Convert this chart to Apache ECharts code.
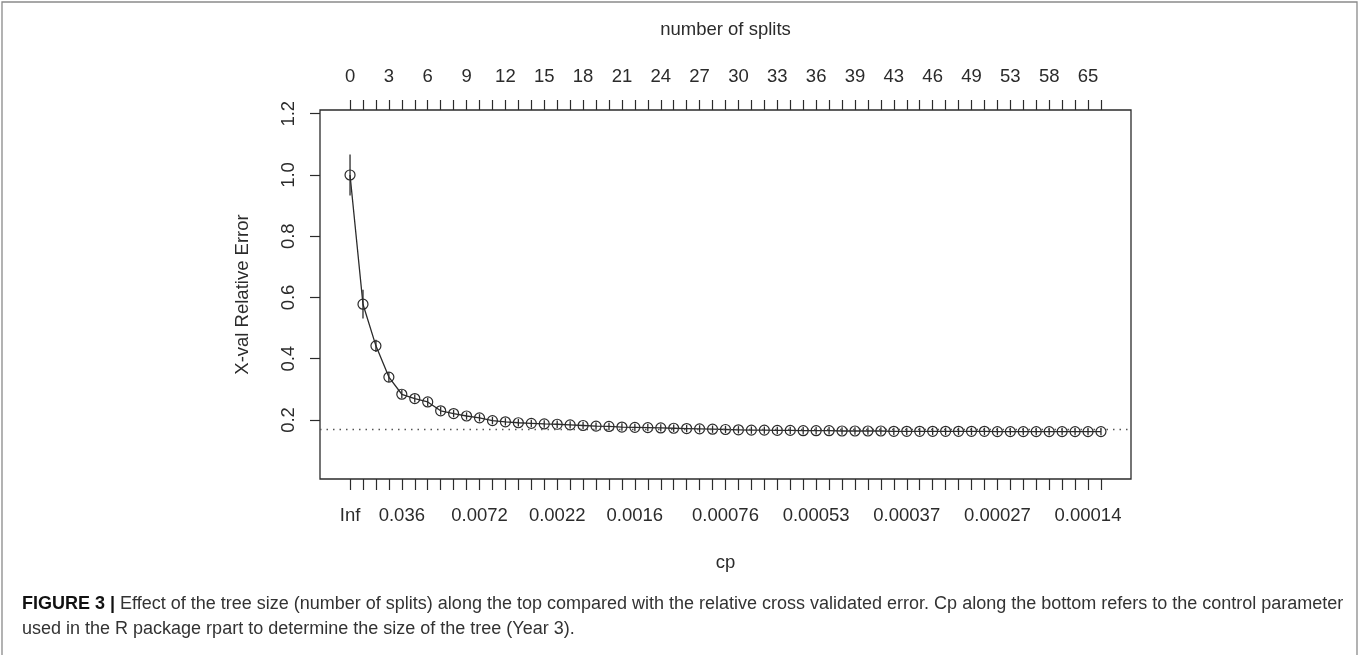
<!DOCTYPE html>
<html>
<head>
<meta charset="utf-8">
<script src="https://cdn.jsdelivr.net/npm/echarts@6/dist/echarts.min.js"></script>
<style>
html,body{margin:0;padding:0;background:#fff;}
#chart{width:1360px;height:655px;}
</style>
</head>
<body>
<div id="chart"></div>
<script>
// ---- data ----
const xerror = [1.000, 0.578, 0.442, 0.340, 0.284, 0.270, 0.259, 0.230, 0.221, 0.213,
  0.207, 0.198, 0.194, 0.191, 0.189, 0.187, 0.186, 0.184, 0.182, 0.180,
  0.179, 0.177, 0.176, 0.175, 0.174, 0.173, 0.172, 0.171, 0.170, 0.169,
  0.168, 0.167, 0.167, 0.166, 0.166, 0.165, 0.165, 0.165, 0.164, 0.164,
  0.164, 0.164, 0.163, 0.163, 0.163, 0.163, 0.163, 0.163, 0.163, 0.163,
  0.162, 0.162, 0.162, 0.162, 0.162, 0.162, 0.162, 0.162, 0.162];
const xstd = [0.067, 0.047, 0.020, 0.016, 0.014, 0.013, 0.013, 0.013, 0.012, 0.012,
  0.012, 0.012, 0.012, 0.012, 0.012, 0.012, 0.012, 0.012, 0.012, 0.012,
  0.012, 0.012, 0.012, 0.012, 0.012, 0.012, 0.012, 0.012, 0.012, 0.012,
  0.012, 0.012, 0.012, 0.012, 0.012, 0.012, 0.012, 0.012, 0.012, 0.012,
  0.012, 0.012, 0.012, 0.012, 0.012, 0.012, 0.012, 0.012, 0.012, 0.012,
  0.012, 0.012, 0.012, 0.012, 0.012, 0.012, 0.012, 0.012, 0.012];
const seThreshold = 0.175;
const splitTickIndex = [0, 3, 6, 9, 12, 15, 18, 21, 24, 27, 30, 33, 36, 39, 42, 45, 48, 51, 54, 57];
const splitTickLabels = ['0','3','6','9','12','15','18','21','24','27','30','33','36','39','43','46','49','53','58','65'];
const cpTickIndex = [0, 4, 10, 16, 22, 29, 36, 43, 50, 57];
const cpTickLabels = ['Inf','0.036','0.0072','0.0022','0.0016','0.00076','0.00053','0.00037','0.00027','0.00014'];
const yTicks = [0.2, 0.4, 0.6, 0.8, 1.0, 1.2];

// ---- build ----
const pointIdx = xerror.map((v, i) => i);
const points = xerror.map((v, i) => [i, v]);
const bars = xerror.map((v, i) => [i, v - xstd[i], v + xstd[i]]);
const n = xerror.length;
const pad = 0.04 * (n - 1);
const xMin = -pad, xMax = (n - 1) + pad;
const INK = '#2b2b2b';
const FONT = 'Liberation Sans, Arial, sans-serif';
const FS = 18.5;

function lbl(idx, labels) {
  return function (val) {
    const k = idx.indexOf(Math.round(val));
    return k >= 0 ? labels[k] : '';
  };
}

const chart = echarts.init(document.getElementById('chart'), null, {renderer: 'canvas'});
chart.setOption({
  animation: false,
  backgroundColor: '#fff',
  textStyle: {fontFamily: FONT},
  grid: {left: 320, top: 110, width: 811, height: 369, show: true,
         borderColor: INK, borderWidth: 1.3, backgroundColor: 'transparent'},
  xAxis: [{
    type: 'value', position: 'bottom', min: xMin, max: xMax,
    name: 'cp', nameLocation: 'middle', nameGap: 74,
    nameTextStyle: {fontSize: FS, color: INK, fontFamily: FONT},
    axisLine: {show: false, onZero: false}, splitLine: {show: false},
    axisTick: {show: true, inside: false, length: 11, customValues: pointIdx,
               lineStyle: {color: INK, width: 1.2}},
    axisLabel: {show: true, customValues: cpTickIndex, formatter: lbl(cpTickIndex, cpTickLabels),
                margin: 27, fontSize: FS, color: INK, fontFamily: FONT}
  }, {
    type: 'value', position: 'top', min: xMin, max: xMax,
    name: 'number of splits', nameLocation: 'middle', nameGap: 71,
    nameTextStyle: {fontSize: FS, color: INK, fontFamily: FONT},
    axisLine: {show: false, onZero: false}, splitLine: {show: false},
    axisTick: {show: true, inside: false, length: 10, customValues: pointIdx,
               lineStyle: {color: INK, width: 1.2}},
    axisLabel: {show: true, customValues: splitTickIndex, formatter: lbl(splitTickIndex, splitTickLabels),
                margin: 24, fontSize: FS, color: INK, fontFamily: FONT}
  }],
  yAxis: {
    type: 'value', position: 'left', min: 0.0073, max: 1.2122,
    name: 'X-val Relative Error', nameLocation: 'middle', nameRotate: 90, nameGap: 68,
    nameTextStyle: {fontSize: FS, color: INK, fontFamily: FONT},
    axisLine: {show: false, onZero: false}, splitLine: {show: false},
    axisTick: {show: true, inside: false, length: 10, customValues: yTicks,
               lineStyle: {color: INK, width: 1.2}},
    axisLabel: {show: true, customValues: yTicks, rotate: 90, margin: 22,
                formatter: v => v.toFixed(1), fontSize: FS, color: INK, fontFamily: FONT}
  },
  series: [{
    type: 'line', xAxisIndex: 0, data: points, z: 3,
    symbol: 'circle', symbolSize: 10,
    itemStyle: {color: 'rgba(0,0,0,0)', borderColor: INK, borderWidth: 1.2},
    lineStyle: {color: INK, width: 1.3},
    markLine: {silent: true, symbol: 'none', label: {show: false},
               lineStyle: {color: '#555', type: [1.5, 5], width: 1.3},
               data: [{yAxis: seThreshold}]}
  }, {
    type: 'custom', xAxisIndex: 0, data: bars, z: 4,
    renderItem: function (params, api) {
      const lo = api.coord([api.value(0), api.value(1)]);
      const hi = api.coord([api.value(0), api.value(2)]);
      return {type: 'line', shape: {x1: lo[0], y1: lo[1], x2: hi[0], y2: hi[1]},
              style: {stroke: INK, lineWidth: 1.3}};
    }
  }],
  graphic: [{
    type: 'rect', shape: {x: 2, y: 2, width: 1355, height: 720}, silent: true,
    style: {fill: 'none', stroke: '#8a8a8a', lineWidth: 1.3}
  }, {
    type: 'text', left: 22, top: 592, silent: true,
    style: {
      text: '{b|FIGURE 3 |} Effect of the tree size (number of splits) along the top compared with the relative cross validated error. Cp along the bottom refers to the control parameter\nused in the R package rpart to determine the size of the tree (Year 3).',
      font: '18px Liberation Sans, Arial, sans-serif', fill: '#333', lineHeight: 25,
      rich: {b: {fontWeight: 'bold', fill: '#111', fontSize: 18, fontFamily: FONT}}
    }
  }]
});
</script>
</body>
</html>
